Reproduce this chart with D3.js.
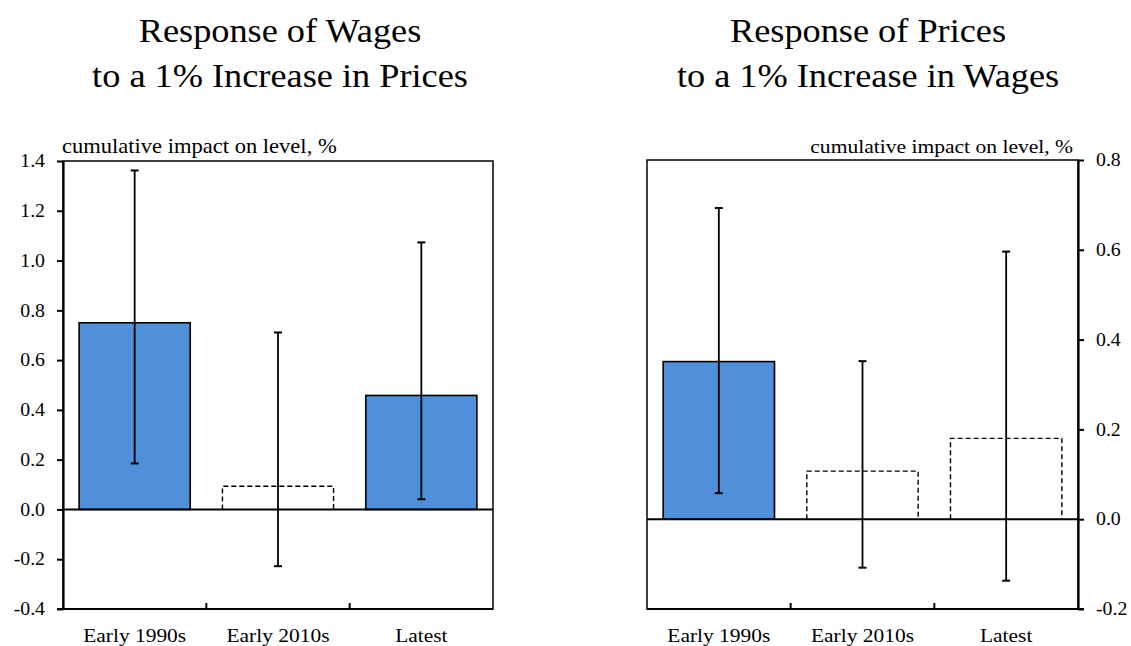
<!DOCTYPE html>
<html>
<head>
<meta charset="utf-8">
<script src="https://cdn.jsdelivr.net/npm/d3@7"></script>
<style>
  html, body { margin: 0; padding: 0; background: #fff; }
  svg { display: block; }
</style>
</head>
<body>
<svg id="chart" width="1131" height="646" font-family="Liberation Serif"></svg>
<script>
// ---- data ----
const categories = ["Early 1990s", "Early 2010s", "Latest"];

const wagesTitle = ["Response of Wages", "to a 1% Increase in Prices"];
const wagesValues = [0.75, 0.093, 0.458];
const wagesErrLow = [0.185, -0.228, 0.041];
const wagesErrHigh = [1.362, 0.711, 1.073];
const wagesSignificant = [true, false, true];
const wagesTicks = [-0.4, -0.2, 0.0, 0.2, 0.4, 0.6, 0.8, 1.0, 1.2, 1.4];

const pricesTitle = ["Response of Prices", "to a 1% Increase in Wages"];
const pricesValues = [0.351, 0.107, 0.18];
const pricesErrLow = [0.058, -0.108, -0.137];
const pricesErrHigh = [0.693, 0.352, 0.596];
const pricesSignificant = [true, false, false];
const pricesTicks = [-0.2, 0.0, 0.2, 0.4, 0.6, 0.8];

const unitLabel = "cumulative impact on level, %";

// ---- drawing ----
const FONT = "Liberation Serif";
const SX = 1.1; // horizontal stretch of the reference typography
const svg = d3.select("#chart");
const BLUE = "#508fda";

function txt(g, x, y, size, s, anchor) {
  return g.append("text")
    .attr("transform", `translate(${x},${y}) scale(${SX},1)`)
    .attr("font-family", FONT).attr("font-size", size)
    .attr("text-anchor", anchor || "start").attr("fill", "#000").text(s);
}

function panel(opts) {
  const g = svg.append("g");
  const { x0, x1, y0, y1, domain, ticks, values, lo, hi, sig, title, titleX, axisSide } = opts;

  const x = d3.scaleBand().domain(categories).range([x0, x1]).paddingInner(0.225).paddingOuter(0.1125);
  const y = d3.scaleLinear().domain(domain).range([y1, y0]);

  // title
  txt(g, titleX, 42, 33, title[0], "middle");
  txt(g, titleX, 87, 33, title[1], "middle");

  // bars
  categories.forEach((c, i) => {
    const v = values[i];
    const bx = x(c), bw = x.bandwidth();
    const top = y(Math.max(0, v)), bot = y(Math.min(0, v));
    if (sig[i]) {
      g.append("rect").attr("x", bx).attr("y", top).attr("width", bw).attr("height", bot - top)
        .attr("fill", BLUE).attr("stroke", "#000").attr("stroke-width", 1.6);
    } else {
      g.append("path")
        .attr("d", `M${bx},${bot}L${bx},${top}L${bx + bw},${top}L${bx + bw},${bot}`)
        .attr("fill", "none").attr("stroke", "#000").attr("stroke-width", 1.4)
        .attr("stroke-dasharray", "5,3");
    }
  });

  // zero line
  g.append("line").attr("x1", x0).attr("x2", x1).attr("y1", y(0)).attr("y2", y(0))
    .attr("stroke", "#000").attr("stroke-width", 2);

  // error bars
  categories.forEach((c, i) => {
    const cx = x(c) + x.bandwidth() / 2;
    g.append("line").attr("x1", cx).attr("x2", cx).attr("y1", y(lo[i])).attr("y2", y(hi[i]))
      .attr("stroke", "#000").attr("stroke-width", 1.8);
    [lo[i], hi[i]].forEach(v => {
      g.append("line").attr("x1", cx - 4).attr("x2", cx + 4).attr("y1", y(v)).attr("y2", y(v))
        .attr("stroke", "#000").attr("stroke-width", 2);
    });
  });

  // frame
  g.append("rect").attr("x", x0).attr("y", y0).attr("width", x1 - x0).attr("height", y1 - y0)
    .attr("fill", "none").attr("stroke", "#000").attr("stroke-width", 1.5);

  // value axis
  const axis = (axisSide === "left" ? d3.axisLeft(y) : d3.axisRight(y))
    .tickValues(ticks).tickFormat(d => d3.format(".1f")(d).replace("−", "-"))
    .tickSizeOuter(0).tickSizeInner(6).tickPadding(12);
  const ag = g.append("g").attr("transform", `translate(${axisSide === "left" ? x0 : x1},0)`).call(axis);
  ag.attr("font-family", FONT).attr("font-size", 18);
  ag.select(".domain").attr("stroke-width", 2.2);
  ag.selectAll(".tick line").attr("stroke-width", 2);
  ag.selectAll(".tick text").each(function () {
    const t = d3.select(this);
    const tx = +t.attr("x");
    t.attr("x", 0).attr("transform", `translate(${tx},0) scale(${SX},1)`)
      .attr("font-family", FONT).attr("font-size", 18).attr("fill", "#000");
  });

  // category axis (ticks between categories, pointing up)
  const step = x.step();
  for (let i = 1; i < categories.length; i++) {
    const tx = x(categories[i]) - (step - x.bandwidth()) / 2;
    g.append("line").attr("x1", tx).attr("x2", tx).attr("y1", y1).attr("y2", y1 - 6)
      .attr("stroke", "#000").attr("stroke-width", 2);
  }
  g.append("line").attr("x1", x0 - (axisSide === "left" ? 6 : 0)).attr("x2", x1 + (axisSide === "right" ? 6 : 0))
    .attr("y1", y1).attr("y2", y1).attr("stroke", "#000").attr("stroke-width", 2.2);
  categories.forEach(c => {
    txt(g, x(c) + x.bandwidth() / 2, 642, 19.5, c, "middle");
  });

  // unit label
  if (axisSide === "left") {
    txt(g, x0 - 1, 153, 20.5, unitLabel, "start");
  } else {
    txt(g, x1 - 5, 153, 19.6, unitLabel, "end");
  }
}

panel({
  x0: 63, x1: 493, y0: 161, y1: 609, domain: [-0.4, 1.4], ticks: wagesTicks,
  values: wagesValues, lo: wagesErrLow, hi: wagesErrHigh, sig: wagesSignificant,
  title: wagesTitle, titleX: 280, axisSide: "left"
});

panel({
  x0: 647, x1: 1078, y0: 160, y1: 609, domain: [-0.2, 0.8], ticks: pricesTicks,
  values: pricesValues, lo: pricesErrLow, hi: pricesErrHigh, sig: pricesSignificant,
  title: pricesTitle, titleX: 868, axisSide: "right"
});
</script>
</body>
</html>
